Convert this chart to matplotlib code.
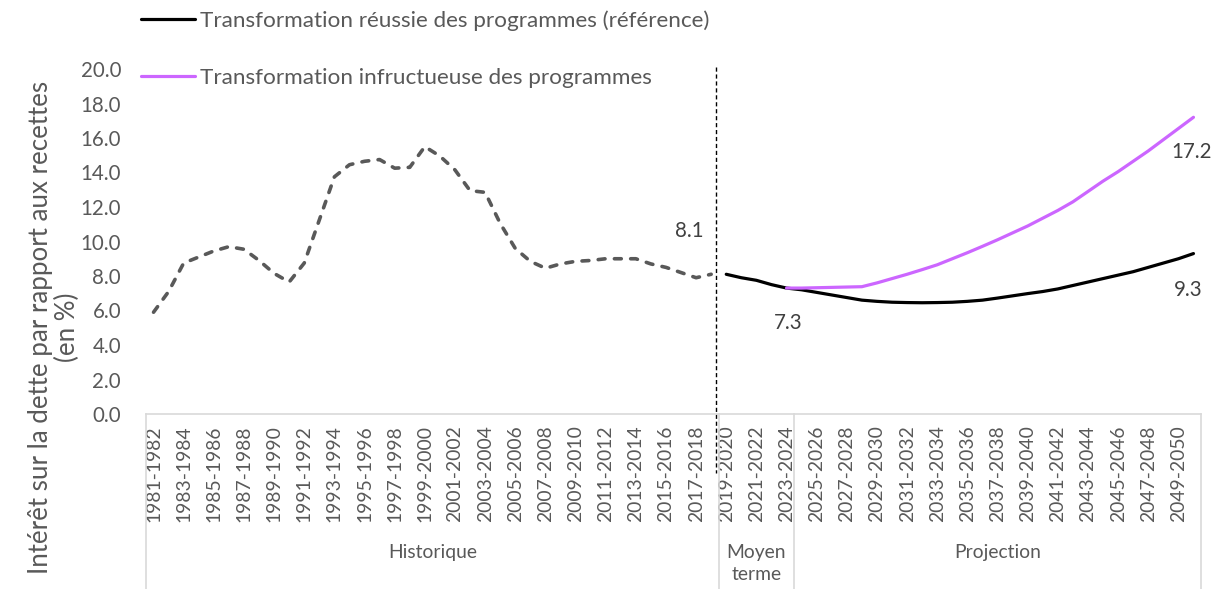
import matplotlib.pyplot as plt
import matplotlib.transforms as mtransforms

plt.rcParams['font.family'] = ['Lato', 'DejaVu Sans']

# Categories (fiscal years) and groups
years = [f"{y}-{y + 1}" for y in range(1981, 2051)]
groups = ["Historique", "Moyen\nterme", "Projection"]
group_bounds = [(0, 37), (38, 42), (43, 69)]

# Historical series (1981-1982 to 2018-2019)
historique = [5.9, 7.1, 8.75, 9.1, 9.45, 9.7, 9.55, 8.9, 8.15, 7.65,
              8.75, 11.25, 13.75, 14.45, 14.65, 14.75, 14.25, 14.3, 15.5, 14.95,
              14.15, 12.95, 12.85, 11.05, 9.6, 8.85, 8.45, 8.7, 8.85, 8.9,
              9.0, 9.0, 9.0, 8.7, 8.5, 8.2, 7.9, 8.1]

# Successful transformation (reference), 2019-2020 to 2050-2051
reference = [8.1, 7.9, 7.75, 7.5, 7.3, 7.2, 7.05, 6.9, 6.75, 6.6,
             6.53, 6.48, 6.46, 6.45, 6.46, 6.48, 6.53, 6.6, 6.72, 6.85,
             6.98, 7.1, 7.25, 7.45, 7.65, 7.85, 8.05, 8.25, 8.5, 8.75,
             9.0, 9.3]

# Unsuccessful transformation, 2023-2024 to 2050-2051
echec = [7.3, 7.3, 7.32, 7.34, 7.36, 7.38, 7.6, 7.85, 8.1, 8.37,
         8.65, 9.0, 9.35, 9.72, 10.1, 10.5, 10.9, 11.35, 11.8, 12.3,
         12.9, 13.5, 14.05, 14.65, 15.25, 15.9, 16.55, 17.2]

x_hist = list(range(0, len(historique)))
x_ref = list(range(38, 38 + len(reference)))
x_ech = list(range(42, 42 + len(echec)))

grey = "#595959"
purple = "#CC66FF"
line_grey = "#D9D9D9"

fig = plt.figure(figsize=(12.25, 5.89), dpi=100)
ax = fig.add_axes([146 / 1225, 1 - 414 / 589, (1201 - 146) / 1225, (414 - 69) / 589])

ax.plot(x_hist, historique, color=grey, lw=2.6, linestyle=(0, (1.9, 2.6)),
        dash_capstyle="round", solid_joinstyle="round")
l_ref, = ax.plot(x_ref, reference, color="black", lw=2.3, solid_capstyle="round",
                 label="Transformation réussie des programmes (référence)")
l_ech, = ax.plot(x_ech, echec, color=purple, lw=2.3, solid_capstyle="round",
                 label="Transformation infructueuse des programmes")

ax.set_xlim(-0.5, 69.5)
ax.set_ylim(0, 20)
ax.set_yticks([i * 2 for i in range(11)])
ax.set_yticklabels([f"{i * 2:.1f}" for i in range(11)])
ax.tick_params(axis="y", length=0, pad=18, labelsize=14.8, labelcolor=grey)
ax.set_xticks(range(0, 70, 2))
ax.set_xticklabels(years[::2], rotation=90)
ax.tick_params(axis="x", length=0, pad=8, labelsize=13.9, labelcolor=grey)

for s in ["top", "right", "left"]:
    ax.spines[s].set_visible(False)
ax.spines["bottom"].set_color(line_grey)
ax.spines["bottom"].set_linewidth(1.2)

# category table separators
trans = mtransforms.blended_transform_factory(ax.transData, ax.transAxes)
for b in [-0.5, 37.5, 42.5, 69.5]:
    ax.plot([b, b], [0, -0.53], color=line_grey, lw=1.2, transform=trans, clip_on=False)
for g, (a, b) in zip(groups, group_bounds):
    ax.text((a + b) / 2, -0.378, g, transform=trans, ha="center", va="top",
            fontsize=13.9, color=grey, linespacing=1.3)

# vertical dashed separator
ax.plot([37.35, 37.35], [1.006, -0.17], color="black", lw=1, linestyle=(0, (3, 2)),
        transform=trans, clip_on=False)

# data labels
lab = dict(fontsize=14.8, color="#404040")
ax.annotate("8.1", (x_hist[-1], historique[-1]), xytext=(-22, 43), textcoords="offset pixels",
            ha="center", va="center", **lab)
ax.annotate("7.3", (x_ech[0], echec[0]), xytext=(2, -35), textcoords="offset pixels",
            ha="center", va="center", **lab)
ax.annotate("17.2", (x_ech[-1], echec[-1]), xytext=(-2, -35), textcoords="offset pixels",
            ha="center", va="center", **lab)
ax.annotate("9.3", (x_ref[-1], reference[-1]), xytext=(-5, -36), textcoords="offset pixels",
            ha="center", va="center", **lab)

fig.text(54 / 1225, 1 - 327 / 589, "Intérêt sur la dette par rapport aux recettes\n(en %)",
         rotation=90, ha="center", va="center", fontsize=18.6, color=grey,
         multialignment="center", linespacing=1.1)

fig.legend(handles=[l_ref, l_ech], loc="upper left", bbox_to_anchor=(141 / 1225, 1 - 10 / 589),
           frameon=False, fontsize=16.2, labelcolor=grey, handlelength=2.4,
           handletextpad=0.2, labelspacing=1.67, borderpad=0, borderaxespad=0)

fig.savefig("out.png", dpi=100)
